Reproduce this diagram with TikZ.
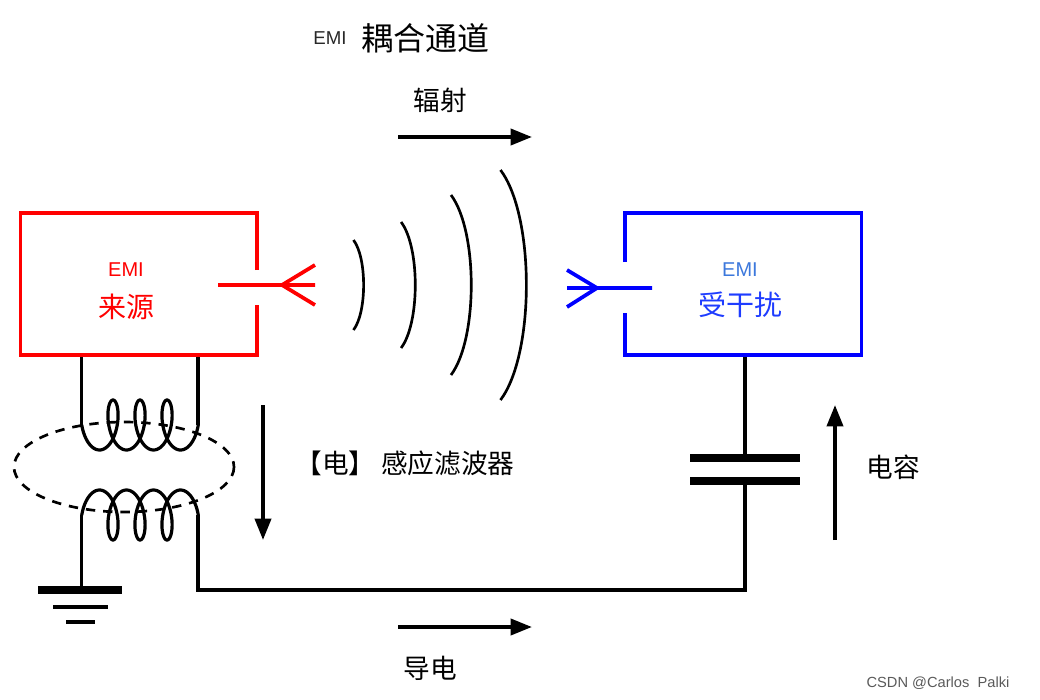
\documentclass[tikz,border=0pt]{standalone}
\usepackage{fontspec}
\setmainfont{Liberation Sans}
\newfontfamily\cjk{Noto Sans CJK SC}
\usetikzlibrary{arrows.meta,positioning}

\tikzset{every picture/.style={line width=2.5pt}}
\tikzset{
	wire/.style={draw=black, line width=2.5pt},
	flow/.style={-{Triangle[length=16pt,width=12pt]}, line width=2.8pt},
	txt/.style={font=\cjk\fontsize{20}{22}\selectfont},
	box/.style={minimum width=176pt, minimum height=105pt, inner sep=0pt}}

\begin{document}
\begin{tikzpicture}[x=0.75pt,y=0.75pt,yscale=-1,xscale=1]
	\useasboundingbox (0,0) rectangle (1040,700);

	% boxes
	\node [box] (src) at (139.5,285) {};
	\node [box] (vic) at (742.5,285) {};
	\node [text=red, font=\fontsize{15}{17}\selectfont] (srce) at (126,270) {EMI};
	\node [text=red, font=\cjk\fontsize{21}{24}\selectfont] (srcn) at (126,307) {来源};
	\node [text={rgb,255:red,60;green,120;blue,220}, font=\fontsize{15}{17}\selectfont] (vice) at (740,270) {EMI};
	\node [text={rgb,255:red,30;green,60;blue,255}, font=\cjk\fontsize{21}{24}\selectfont] (vicn) at (740,305) {受干扰};
	\draw [red, line width=2.8pt] (257,270) |- (src.north west) |- (257,355) -- (257,305);
	\draw [blue, line width=2.8pt] (625,262) |- (vic.north east) |- (625,355) -- (625,313);

	% antennas
	\coordinate (txv) at (282,285);
	\draw [red, line width=2.8pt] (218,285) -- (315,285) (315,265) -- (txv) -- (315,305);
	\coordinate (rxv) at (597,288);
	\draw [blue, line width=2.8pt] (652,288) -- (567,288) (567,270) -- (rxv) -- (567,307);

	% waves
	\foreach \r/\h in {367/45, 420/63, 478/90, 535/115}
	\draw [line width=2pt] (\r-\h*0.3,285-\h) .. controls (\r,285-\h*0.6) and (\r,285+\h*0.6) .. (\r-\h*0.3,285+\h);

	% transformer
	\draw [line width=2pt, dash pattern=on 7pt off 6pt] (124,467) ellipse [x radius=110, y radius=45];
	\draw [line width=2.4pt] plot [domain=-270:990, samples=200] ({113+4.3*rad(\x)-11*sin(\x)}, {425-25*cos(\x)});
	\draw [line width=2.4pt] plot [domain=-270:990, samples=200] ({113+4.3*rad(\x)-11*sin(\x)}, {515+25*cos(\x)});
	\coordinate (t1) at (81.7,425);
	\coordinate (t2) at (198,425);
	\coordinate (b1) at (81.7,515);
	\coordinate (b2) at (198,515);
	\draw [wire] (t1) -- (t1 |- src.south) (t2) -- (t2 |- src.south);

	% ground
	\coordinate (gnd) at (81.7,590);
	\draw [wire] (b1) -- (gnd);
	\draw [line width=6pt] (38,590) -- (122,590);
	\draw [line width=2.8pt] (53,607) -- (108,607);
	\draw [line width=2.8pt] (66,622) -- (95,622);

	% return path with capacitor
	\coordinate (cap1) at (745,458);
	\coordinate (cap2) at (745,481);
	\draw [wire] (b2) -- (198,590) -| (cap2);
	\draw [wire] (cap1) -- (cap1 |- vic.south);
	\draw [line width=6.5pt] (690,458) -- (800,458) (690,481) -- (800,481);

	% arrows
	\draw [flow] (398,137) -- (532,137);
	\draw [flow] (398,627) -- (532,627);
	\draw [flow] (263,405) -- (263,540);
	\draw [flow] (835,540) -- (835,405);

	% Text Node
	\node [font=\fontsize{14}{16}\selectfont, text={rgb,255:red,40;green,40;blue,40}] (emi) at (330,38) {EMI};
	\node [font=\cjk\fontsize{24}{26}\selectfont, right=2pt of emi] (chan) {耦合通道};
	\node [txt] (rad) at (440,100) {辐射};
	\node [txt] (ind) at (405,463) {【电】\ 感应滤波器};
	\node [txt] (capl) at (893,467) {电容};
	\node [txt] (cond) at (430,668) {导电};
	\node [font=\fontsize{11}{13}\selectfont, text={rgb,255:red,90;green,90;blue,90}] (mark) at (938,683) {CSDN @Carlos\ \ Palki};

\end{tikzpicture}
\end{document}
